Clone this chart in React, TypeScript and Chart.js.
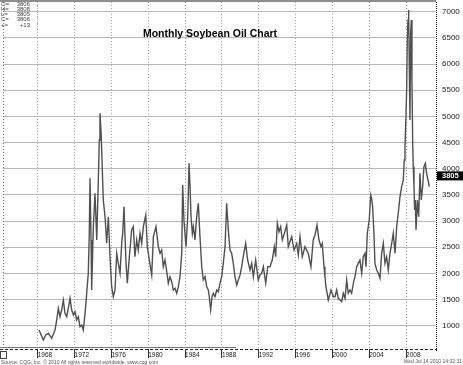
import { useEffect, useRef } from "react";
import { Chart, registerables } from "chart.js";

Chart.register(...registerables);

const years = [
  1968.14, 1968.61, 1968.87, 1969.15, 1969.52, 1969.88, 1970.06, 1970.24, 1970.42, 1970.6,
  1970.78, 1970.96, 1971.15, 1971.32, 1971.51, 1971.69, 1971.87, 1972.05, 1972.23, 1972.41,
  1972.59, 1972.78, 1972.95, 1973.14, 1973.32, 1973.49, 1973.6, 1973.68, 1973.79, 1973.86,
  1974.04, 1974.22, 1974.41, 1974.58, 1974.69, 1974.76, 1974.87, 1974.95, 1975.06, 1975.12,
  1975.31, 1975.49, 1975.67, 1975.85, 1976.03, 1976.21, 1976.39, 1976.58, 1976.75, 1976.94,
  1977.12, 1977.23, 1977.37, 1977.48, 1977.59, 1977.73, 1977.95, 1978.2, 1978.38, 1978.56,
  1978.75, 1978.92, 1979.11, 1979.29, 1979.47, 1979.73, 1979.9, 1980.12, 1980.38, 1980.56,
  1980.84, 1981.1, 1981.28, 1981.46, 1981.64, 1981.82, 1982.01, 1982.18, 1982.36, 1982.55,
  1982.72, 1982.91, 1983.09, 1983.27, 1983.45, 1983.64, 1983.74, 1983.88, 1984.1, 1984.29,
  1984.43, 1984.54, 1984.65, 1984.79, 1984.9, 1985.08, 1985.26, 1985.44, 1985.62, 1985.81,
  1985.98, 1986.17, 1986.35, 1986.52, 1986.63, 1986.78, 1986.93, 1987.07, 1987.25, 1987.44,
  1987.61, 1987.79, 1987.98, 1988.15, 1988.34, 1988.52, 1988.63, 1988.7, 1988.88, 1989.06,
  1989.24, 1989.42, 1989.61, 1989.78, 1989.97, 1990.15, 1990.32, 1990.58, 1990.8, 1991.05,
  1991.24, 1991.41, 1991.67, 1991.81, 1991.95, 1992.14, 1992.32, 1992.5, 1992.76, 1992.98,
  1993.22, 1993.47, 1993.69, 1993.84, 1994.02, 1994.2, 1994.38, 1994.56, 1994.78, 1995.04,
  1995.21, 1995.58, 1995.83, 1996.12, 1996.3, 1996.48, 1996.73, 1997.02, 1997.38, 1997.67,
  1997.92, 1998.11, 1998.33, 1998.54, 1998.76, 1998.9, 1999.09, 1999.19, 1999.3, 1999.55,
  1999.85, 2000.1, 2000.28, 2000.46, 2000.64, 2000.82, 2001.01, 2001.18, 2001.37, 2001.55,
  2001.72, 2001.91, 2002.09, 2002.27, 2002.45, 2002.64, 2002.81, 2002.99, 2003.18, 2003.35,
  2003.54, 2003.65, 2003.79, 2004.0, 2004.16, 2004.26, 2004.37, 2004.51, 2004.62, 2004.81,
  2004.98, 2005.17, 2005.35, 2005.53, 2005.71, 2005.89, 2006.07, 2006.25, 2006.44, 2006.61,
  2006.8, 2006.98, 2007.15, 2007.34, 2007.52, 2007.7, 2007.8, 2007.88, 2007.99, 2008.07,
  2008.13, 2008.21, 2008.28, 2008.35, 2008.42, 2008.5, 2008.57, 2008.64, 2008.72, 2008.78,
  2008.86, 2008.93, 2009.0, 2009.08, 2009.22, 2009.37, 2009.51, 2009.65, 2009.8, 2009.94,
  2010.09, 2010.23, 2010.38, 2010.52,
];

const prices = [
  918, 727, 822, 855, 759, 918, 1109, 1332, 1172, 1300,
  1491, 1237, 1172, 1332, 1523, 1300, 1204, 1268, 1109, 1172,
  981, 1013, 918, 1237, 1619, 2001, 2765, 3817, 2638, 1682,
  2892, 3530, 2638, 3784, 4548, 5058, 4739, 4357, 3721, 3402,
  3083, 2574, 3083, 2318, 1745, 1554, 1682, 2383, 2192, 2001,
  2574, 2765, 3274, 2701, 2192, 1810, 2318, 2829, 2892, 2318,
  2638, 2446, 2765, 2574, 2892, 3115, 2510, 2255, 1969, 2701,
  2892, 2510, 2383, 2446, 2127, 2255, 2032, 1810, 1936, 1841,
  1682, 1714, 1619, 1745, 1936, 2383, 3688, 3020, 2510, 3083,
  4103, 3656, 3083, 2765, 2892, 2638, 3083, 3339, 2701, 2127,
  1873, 1936, 1745, 1682, 1554, 1300, 1554, 1619, 1554, 1682,
  1650, 1810, 1936, 2192, 2510, 3339, 3020, 2829, 2446, 2383,
  2192, 1936, 1778, 1873, 1969, 2127, 2318, 2574, 2255, 2064,
  2192, 1936, 2255, 2064, 1873, 1969, 2001, 2127, 1810, 2127,
  2127, 2255, 2510, 2318, 2957, 2796, 2892, 2638, 2765, 2924,
  2510, 2701, 2446, 2574, 2351, 2701, 2318, 2510, 2383, 2127,
  2638, 2733, 2924, 2638, 2510, 2574, 2127, 1936, 1745, 1491,
  1682, 1554, 1554, 1682, 1523, 1491, 1459, 1619, 1523, 1873,
  1619, 1682, 1619, 1810, 1936, 2127, 2192, 2255, 2001, 2318,
  2383, 2127, 2765, 3020, 3497, 3434, 3274, 2765, 2192, 2064,
  2001, 1906, 2383, 2574, 2192, 2318, 2064, 2383, 2574, 2765,
  2383, 2892, 3148, 3466, 3656, 3784, 4166, 4420, 4994, 5567,
  6459, 6841, 7032, 5949, 4930, 6587, 6841, 5632, 4485, 4038,
  3656, 3211, 3402, 2829, 3402, 3083, 3912, 3402, 3656, 4038,
  4103, 3912, 3784, 3656,
];

const xTickYears = [1968, 1972, 1976, 1980, 1984, 1988, 1992, 1996, 2000, 2004, 2008];
const yTickValues = [1000, 1500, 2000, 2500, 3000, 3500, 4000, 4500, 5000, 5500, 6000, 6500, 7000];
const lastPrice = 3805;
const legendLabels = ["O=", "H=", "L=", "C=", "+="];
const legendValues = ["3806", "3808", "3805", "3806", "+13"];
const titleText = "Monthly Soybean Oil Chart";
const sourceText = "Source: CQG, Inc. \u00a9 2010 All rights reserved worldwide. www.cqg.com";
const stampText = "Wed Jul 14 2010 14:02:31";

const FONT = "'Liberation Sans', Arial, sans-serif";

function zeroPad(s: any) {
  s.paddingTop = 0;
  s.paddingBottom = 0;
  s.paddingLeft = 0;
  s.paddingRight = 0;
}

export default function App() {
  const canvasRef = useRef<HTMLCanvasElement | null>(null);

  useEffect(() => {
    document.body.style.margin = "0";
    const canvas = canvasRef.current;
    if (!canvas) return;

    const extras = {
      id: "extras",
      afterDraw(chart: any) {
        const ctx = chart.ctx;
        const area = chart.chartArea;
        const yScale = chart.scales.y;
        ctx.save();
        // top border band
        ctx.fillStyle = "#8e8e8e";
        ctx.fillRect(0, 0, area.right, 2);
        // left dotted edge
        ctx.strokeStyle = "#777";
        ctx.lineWidth = 1;
        ctx.setLineDash([1, 2]);
        ctx.beginPath();
        ctx.moveTo(area.left + 0.5, area.top);
        ctx.lineTo(area.left + 0.5, area.bottom);
        ctx.stroke();
        // right dotted border
        ctx.strokeStyle = "#222";
        ctx.setLineDash([1, 1]);
        ctx.beginPath();
        ctx.moveTo(area.right + 0.5, area.top);
        ctx.lineTo(area.right + 0.5, area.bottom + 2);
        ctx.stroke();
        // bottom green line
        ctx.setLineDash([]);
        ctx.strokeStyle = "#3aa63a";
        ctx.beginPath();
        ctx.moveTo(0, area.bottom - 1.5);
        ctx.lineTo(236, area.bottom - 1.5);
        ctx.stroke();
        // bottom dashed axis
        ctx.strokeStyle = "#222";
        ctx.setLineDash([3, 2]);
        ctx.beginPath();
        ctx.moveTo(0, area.bottom + 0.5);
        ctx.lineTo(area.right + 1, area.bottom + 0.5);
        ctx.stroke();
        ctx.setLineDash([]);
        // small bottom-left box
        ctx.strokeStyle = "#444";
        ctx.strokeRect(0.5, area.bottom + 2.5, 6, 7);

        // title
        ctx.fillStyle = "#000";
        ctx.font = `bold 10.5px ${FONT}`;
        ctx.textAlign = "center";
        ctx.textBaseline = "alphabetic";
        ctx.fillText(titleText, 210, 37);

        // legend box
        ctx.font = `6px ${FONT}`;
        ctx.textBaseline = "middle";
        const rowY = [4.5, 9.5, 14.5, 19.5, 25];
        legendLabels.forEach((lab, i) => {
          ctx.fillStyle = "#444";
          ctx.textAlign = "left";
          ctx.fillText(lab, 1, rowY[i]);
          ctx.textAlign = "right";
          ctx.fillText(legendValues[i], 30, rowY[i]);
        });
        ctx.strokeStyle = "#bbb";
        ctx.setLineDash([1, 1]);
        ctx.beginPath();
        ctx.moveTo(37.5, 2);
        ctx.lineTo(37.5, 30);
        ctx.stroke();
        ctx.setLineDash([]);

        // last value box
        const py = yScale.getPixelForValue(lastPrice) - 3;
        ctx.fillStyle = "#000";
        ctx.fillRect(area.right + 1, py - 4.5, 463 - area.right - 1, 9);
        ctx.fillStyle = "#fff";
        ctx.font = `bold 7.5px ${FONT}`;
        ctx.textAlign = "left";
        ctx.textBaseline = "middle";
        ctx.fillText(String(lastPrice), area.right + 6, py + 0.5);

        // footer texts
        ctx.fillStyle = "#555";
        ctx.font = `5px ${FONT}`;
        ctx.textBaseline = "alphabetic";
        ctx.textAlign = "left";
        ctx.fillText(sourceText, 1, 364);
        ctx.textAlign = "right";
        ctx.fillText(stampText, 462, 363);
        ctx.restore();
      },
    };

    const chart = new Chart(canvas, {
      type: "line",
      data: {
        datasets: [
          {
            data: years.map((x, i) => ({ x, y: prices[i] })),
            borderColor: "#505050",
            borderWidth: 1.4,
            pointRadius: 0,
            tension: 0,
            fill: false,
          },
        ],
      },
      options: {
        animation: false,
        responsive: false,
        maintainAspectRatio: false,
        layout: { padding: { left: 3, top: 2, right: 0, bottom: 0 } },
        plugins: { legend: { display: false }, tooltip: { enabled: false } },
        scales: {
          x: {
            type: "linear",
            position: "bottom",
            min: 1964.23,
            max: 2011.25,
            afterBuildTicks: (s: any) => {
              s.ticks = xTickYears.map((v) => ({ value: v }));
            },
            afterFit: (s: any) => {
              s.height = 16;
              zeroPad(s);
            },
            ticks: {
              callback: (v: any) => String(v),
              align: "start",
              padding: -7,
              maxRotation: 0,
              autoSkip: false,
              color: "#222",
              font: { family: FONT, size: 6.5 },
            },
            grid: {
              color: "#a8a8a8",
              lineWidth: 1,
              drawTicks: true,
              tickLength: 9,
              tickColor: "#333",
              tickWidth: 1,
            },
            border: { display: false, dash: [1, 2] },
          },
          y: {
            type: "linear",
            position: "right",
            min: 555,
            max: 7185,
            afterBuildTicks: (s: any) => {
              s.ticks = yTickValues.map((v) => ({ value: v }));
            },
            afterFit: (s: any) => {
              s.width = 27;
              zeroPad(s);
            },
            ticks: {
              callback: (v: any) => String(v),
              padding: 6,
              color: "#222",
              font: { family: FONT, size: 8 },
            },
            grid: { color: "#b8b8b8", lineWidth: 1, drawTicks: false },
            border: { display: false },
          },
        },
      },
      plugins: [extras],
    } as any);

    return () => chart.destroy();
  }, []);

  return (
    <div style={{ width: 463, height: 365, position: "relative", background: "#fff" }}>
      <canvas ref={canvasRef} width={463} height={365} style={{ display: "block" }} />
    </div>
  );
}
